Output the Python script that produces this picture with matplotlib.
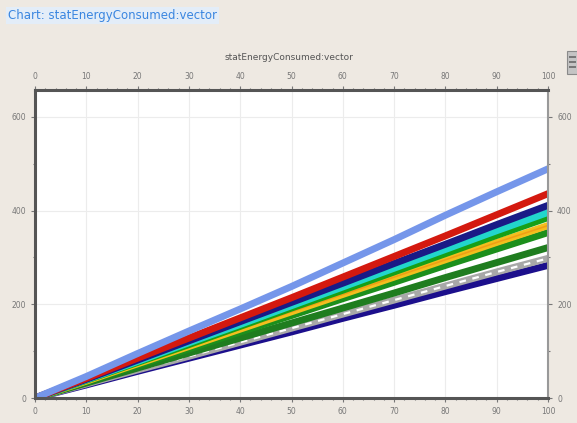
import matplotlib
matplotlib.use("Agg")
import matplotlib.pyplot as plt
from matplotlib.patches import Rectangle

x = [0, 10, 20, 30, 40, 50, 60, 70, 80, 90, 100]

light_blue = [0, 46, 95, 143, 190, 238, 288, 338, 390, 440, 489]
red = [0, 42, 85, 128, 171, 214, 258, 302, 346, 391, 436]
navy_mid = [0, 40, 81, 122, 163, 204, 245, 287, 328, 370, 411]
cyan = [0, 39, 78, 118, 157, 197, 237, 277, 317, 357, 396]
green = [0, 38, 76, 114, 153, 192, 230, 269, 308, 347, 385]
yellow = [0, 36, 73, 110, 147, 184, 221, 258, 295, 332, 368]
green2 = [0, 35, 70, 105, 141, 176, 212, 247, 283, 318, 353]
dark_green = [0, 32, 64, 96, 128, 160, 192, 224, 257, 289, 321]
grey_dash = [0, 30, 60, 89, 119, 149, 179, 209, 239, 269, 298]
navy_low = [0, 28, 57, 85, 113, 141, 170, 198, 227, 255, 283]

series = [
    (navy_low, "#1c0f8c"),
    (grey_dash, "#a8a8a8"),
    (dark_green, "#1f7d1f"),
    (green2, "#1c8f1c"),
    (yellow, "#f2bf1e"),
    (green, "#17a017"),
    (cyan, "#22d6cc"),
    (navy_mid, "#1a1a86"),
    (red, "#d4190f"),
    (light_blue, "#7596ea"),
]

bg = "#eee9e2"
fig = plt.figure(figsize=(5.77, 4.23), dpi=100, facecolor=bg)
ax = fig.add_axes([0.0607, 0.059, 0.889, 0.728])
ax.set_facecolor("white")

for vals, col in series:
    ax.plot(x, vals, color=col, lw=5, solid_capstyle="round")
    if vals is grey_dash:
        ax.plot(x, vals, color="white", lw=1.6, dashes=(3, 3))
    if vals is yellow:
        ax.plot(x, vals, color="#f08a10", lw=1.2, alpha=0.6)

ax.set_xlim(0, 100)
ax.set_ylim(0, 657)
ax.set_xticks(range(0, 101, 10))
ax.set_xticks(range(0, 101, 2), minor=True)
ax.set_yticks([0, 200, 400, 600])
ax.set_yticks(range(0, 657, 100), minor=True)
ax.grid(True, which="major", color="#ececec", lw=0.8)
ax.tick_params(which="both", top=True, right=True, labeltop=True, labelright=True,
               labelsize=5.5, colors="#777777", length=3, width=0.8)
ax.tick_params(which="minor", length=1.5)
for s in ["left", "bottom", "top"]:
    ax.spines[s].set_color("#555555")
    ax.spines[s].set_linewidth(2.2)
ax.spines["right"].set_color("#999999")
ax.spines["right"].set_linewidth(1.5)

fig.text(0.5, 0.865, "statEnergyConsumed:vector", ha="center", va="center",
         fontsize=6.5, color="#555555")
fig.text(0.014, 0.963, "Chart: statEnergyConsumed:vector", ha="left", va="center",
         fontsize=8.5, color="#3a86e0",
         bbox=dict(boxstyle="square,pad=0.15", fc="#e3edf8", ec="none"))

fig.patches.append(Rectangle((0.982, 0.825), 0.025, 0.055, transform=fig.transFigure,
                             fc="#c4c4c4", ec="#8a8a8a", lw=0.8))
for yy in (0.84, 0.852, 0.864):
    fig.patches.append(Rectangle((0.987, yy), 0.012, 0.003, transform=fig.transFigure,
                                 fc="#777777", ec="none"))

fig.savefig("out.png", dpi=100, facecolor=bg)
